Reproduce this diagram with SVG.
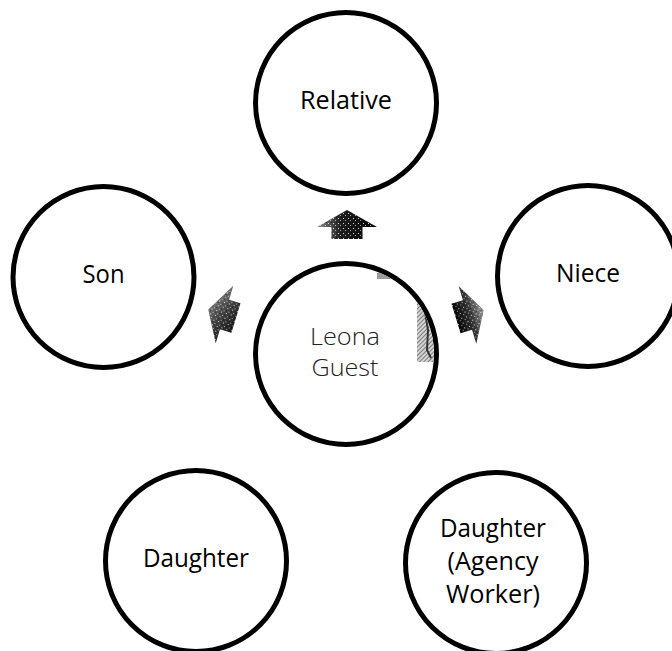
<svg xmlns="http://www.w3.org/2000/svg" width="672" height="651" viewBox="0 0 672 651">
  <style>
    .ring { fill: #ffffff; stroke: #000000; stroke-width: 5; }
    .label { font-family: "Open Sans", "Liberation Sans", sans-serif; font-size: 26px; fill: #000000; text-anchor: middle; }
    .core { font-family: "Open Sans", "Liberation Sans", sans-serif; font-weight: 300; font-size: 24px; fill: #222222; text-anchor: middle; }
  </style>
  <defs>
    <!-- block arrow pointing up, anchored at the middle of the head's base -->
    <path id="arrow" d="M0,-17 L30,0 L15.5,0 L15.5,12 L-15.5,12 L-15.5,0 L-30,0 Z"/>
    <linearGradient id="shadeUp" x1="0" y1="0" x2="1" y2="0">
      <stop offset="0" stop-color="#8a8a8a"/>
      <stop offset="0.4" stop-color="#1e1e1e"/>
      <stop offset="1" stop-color="#050505"/>
    </linearGradient>
    <linearGradient id="shadeLeft" x1="1" y1="0" x2="0" y2="1">
      <stop offset="0" stop-color="#a0a0a0"/>
      <stop offset="0.5" stop-color="#444444"/>
      <stop offset="1" stop-color="#050505"/>
    </linearGradient>
    <linearGradient id="shadeRight" x1="0" y1="0" x2="0" y2="1">
      <stop offset="0" stop-color="#9a9a9a"/>
      <stop offset="0.5" stop-color="#333333"/>
      <stop offset="1" stop-color="#050505"/>
    </linearGradient>
    <pattern id="grain" width="5" height="5" patternUnits="userSpaceOnUse">
      <rect x="1" y="1" width="1" height="1" fill="#ffffff" opacity="0.8"/>
      <rect x="3" y="3" width="1" height="1" fill="#ffffff" opacity="0.6"/>
      <rect x="4" y="0" width="1" height="1" fill="#000000" opacity="0.5"/>
    </pattern>
    <pattern id="hatch" width="3" height="3" patternUnits="userSpaceOnUse" patternTransform="rotate(45)">
      <rect width="3" height="3" fill="#d4d4d4"/>
      <rect width="1" height="3" fill="#7a7a7a"/>
    </pattern>
    <clipPath id="coreInside">
      <circle cx="346" cy="354" r="88"/>
    </clipPath>
  </defs>

  <rect width="672" height="651" fill="#ffffff"/>

  <g id="node-relative">
    <circle class="ring" cx="346" cy="103" r="90.5"/>
    <text class="label" x="346" y="109" textLength="92" lengthAdjust="spacingAndGlyphs">Relative</text>
  </g>

  <g id="node-son">
    <circle class="ring" cx="103.5" cy="277" r="90.5"/>
    <text class="label" x="103.5" y="283" textLength="42" lengthAdjust="spacingAndGlyphs">Son</text>
  </g>

  <g id="node-niece">
    <circle class="ring" cx="588" cy="276" r="90.5"/>
    <text class="label" x="588" y="282" textLength="64" lengthAdjust="spacingAndGlyphs">Niece</text>
  </g>

  <g id="node-leona-guest">
    <circle class="ring" cx="346" cy="354" r="90.5"/>
    <g clip-path="url(#coreInside)">
      <rect x="377" y="273" width="40" height="6" fill="#9c9c9c"/>
      <rect x="417" y="302" width="22" height="60" fill="url(#hatch)"/>
      <path d="M425,312 L428,330 L427,350 L431,358" fill="none" stroke="#333333" stroke-width="2"/>
    </g>
    <text class="core" x="345" y="345" textLength="70" lengthAdjust="spacingAndGlyphs">Leona</text>
    <text class="core" x="345" y="376" textLength="67" lengthAdjust="spacingAndGlyphs">Guest</text>
  </g>

  <g id="node-daughter">
    <circle class="ring" cx="196" cy="561" r="90.5"/>
    <text class="label" x="196" y="567" textLength="106" lengthAdjust="spacingAndGlyphs">Daughter</text>
  </g>

  <g id="node-daughter-agency">
    <circle class="ring" cx="496" cy="563" r="90.5"/>
    <text class="label" x="493" y="537" textLength="106" lengthAdjust="spacingAndGlyphs">Daughter</text>
    <text class="label" x="493" y="570" textLength="91" lengthAdjust="spacingAndGlyphs">(Agency</text>
    <text class="label" x="493" y="603" textLength="94" lengthAdjust="spacingAndGlyphs">Worker)</text>
  </g>

  <g id="connectors">
    <g transform="translate(347,227)">
      <use href="#arrow" fill="url(#shadeUp)"/>
      <use href="#arrow" fill="url(#grain)"/>
    </g>
    <g transform="translate(224.5,314.5) rotate(-73)">
      <use href="#arrow" fill="url(#shadeLeft)"/>
      <use href="#arrow" fill="url(#grain)"/>
    </g>
    <g transform="translate(467.5,315) rotate(73)">
      <use href="#arrow" fill="url(#shadeRight)"/>
      <use href="#arrow" fill="url(#grain)"/>
    </g>
  </g>
</svg>
